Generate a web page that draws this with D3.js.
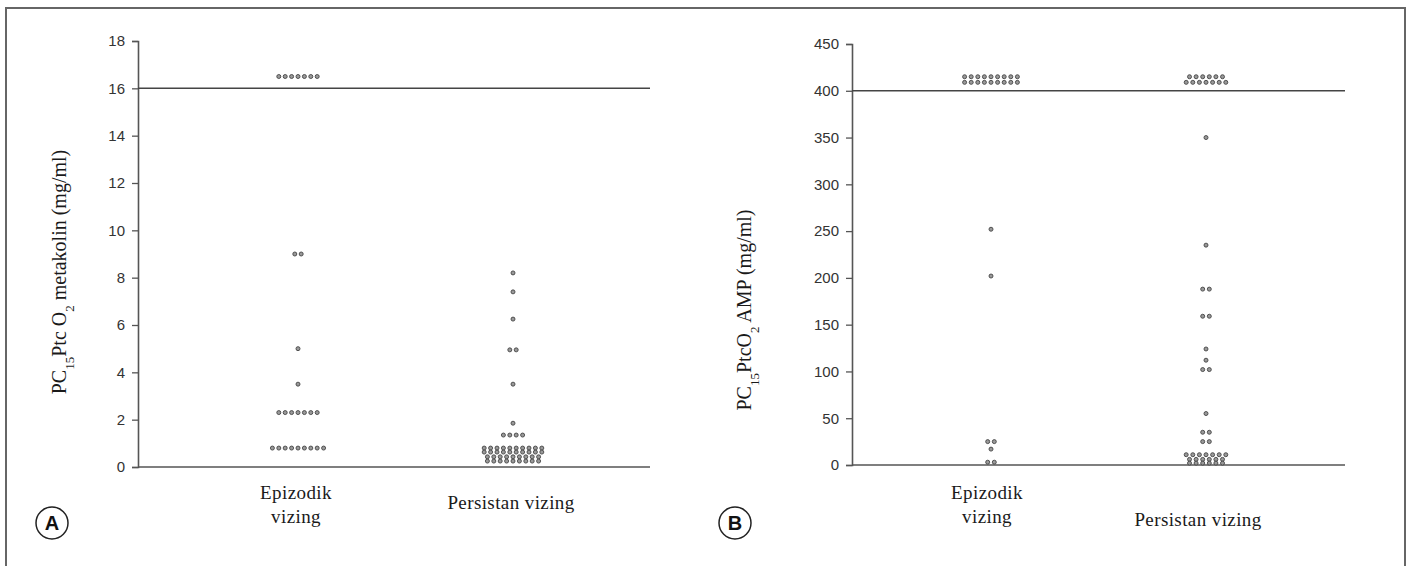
<!DOCTYPE html>
<html>
<head>
<meta charset="utf-8">
<script src="https://cdn.jsdelivr.net/npm/d3@7"></script>
<style>
  body { margin: 0; background: #fff; }
  svg { display: block; }
  .tick-label { font-family: "Liberation Sans", Arial, sans-serif; font-size: 15px; fill: #333; }
  .cat-label { font-family: "Liberation Serif", "Times New Roman", serif; font-size: 19px; fill: #1a1a1a; letter-spacing: 0.4px; }
  .y-title { font-family: "Liberation Serif", "Times New Roman", serif; font-size: 20px; fill: #1a1a1a; }
</style>
</head>
<body>
<svg id="chart" width="1410" height="566"></svg>
<script>
// categories and values
const categories = ["Epizodik vizing", "Persistan vizing"];
const categoryLines = [["Epizodik", "vizing"], ["Persistan vizing"]];

const ticksA = [0, 2, 4, 6, 8, 10, 12, 14, 16, 18];
const ticksB = [0, 50, 100, 150, 200, 250, 300, 350, 400, 450];
const cutoffA = 16;
const cutoffB = 400;

// PC15 metakolin (mg/ml)
const epizodikA = [
    16.5, 16.5, 16.5, 16.5, 16.5, 16.5, 16.5,
    9, 9,
    5,
    3.5,
    2.3, 2.3, 2.3, 2.3, 2.3, 2.3, 2.3,
    0.8, 0.8, 0.8, 0.8, 0.8, 0.8, 0.8, 0.8, 0.8
];
const persistanA = [
    8.2, 7.4, 6.25, 4.95, 4.95, 3.5, 1.85,
    1.35, 1.35, 1.35, 1.35,
    0.8, 0.8, 0.8, 0.8, 0.8, 0.8, 0.8, 0.8, 0.8, 0.8,
    0.63, 0.63, 0.63, 0.63, 0.63, 0.63, 0.63, 0.63, 0.63, 0.63,
    0.43, 0.43, 0.43, 0.43, 0.43, 0.43, 0.43, 0.43, 0.43,
    0.25, 0.25, 0.25, 0.25, 0.25, 0.25, 0.25, 0.25, 0.25
];

// PC15 AMP (mg/ml)
const epizodikB = [
    415, 415, 415, 415, 415, 415, 415, 415, 415,
    409, 409, 409, 409, 409, 409, 409, 409, 409,
    252, 202,
    25, 25, 17, 3, 3
];
const persistanB = [
    415, 415, 415, 415, 415, 415,
    409, 409, 409, 409, 409, 409, 409,
    350, 235, 188, 188, 159, 159, 124, 112, 102, 102,
    55, 35, 35, 25, 25,
    11, 11, 11, 11, 11, 11, 11,
    6, 6, 6, 6, 6, 6,
    2, 2, 2, 2, 2, 2
];

const svg = d3.select("#chart");

// outer frame (open at the bottom)
svg.append("path")
    .attr("d", "M6,566 L6,8 L1405,8 L1405,566")
    .attr("fill", "none")
    .attr("stroke", "#666")
    .attr("stroke-width", 2);

function drawPanel(cfg) {
    const g = svg.append("g");

    const y = d3.scaleLinear()
        .domain([0, d3.max(cfg.ticks)])
        .range([cfg.bottom, cfg.top]);
    const x = d3.scalePoint()
        .domain(categories)
        .range(cfg.centers);

    // y axis
    const yAxis = g.append("g")
        .attr("transform", `translate(${cfg.left},0)`)
        .call(d3.axisLeft(y).tickValues(cfg.ticks).tickSize(6).tickPadding(7));
    yAxis.select(".domain").attr("stroke", "#555").attr("stroke-width", 1.6);
    yAxis.selectAll(".tick line").attr("stroke", "#555").attr("stroke-width", 1.3);
    yAxis.selectAll(".tick text").attr("class", "tick-label").attr("fill", null);

    // x axis line at 0
    g.append("line")
        .attr("x1", cfg.left).attr("x2", cfg.right)
        .attr("y1", y(0)).attr("y2", y(0))
        .attr("stroke", "#555").attr("stroke-width", 1.6);

    // cut-off line
    g.append("line")
        .attr("x1", cfg.left).attr("x2", cfg.right)
        .attr("y1", y(cfg.cutoff)).attr("y2", y(cfg.cutoff))
        .attr("stroke", "#444").attr("stroke-width", 1.5);

    // dots, stacked side by side when values repeat
    cfg.series.forEach((vals, i) => {
        const rows = d3.rollups(vals, v => v.length, d => d);
        const dots = [];
        rows.forEach(([v, n]) => {
            for (let k = 0; k < n; k++) dots.push({ v, k, n });
        });
        g.append("g").selectAll("circle")
            .data(dots)
            .join("circle")
            .attr("cx", d => x(categories[i]) + (d.k - (d.n - 1) / 2) * cfg.spacing)
            .attr("cy", d => y(d.v))
            .attr("r", 2)
            .attr("fill", "#999")
            .attr("stroke", "#444")
            .attr("stroke-width", 0.9);
    });

    // category labels
    categories.forEach((c, i) => {
        const t = g.append("text")
            .attr("class", "cat-label")
            .attr("text-anchor", "middle")
            .attr("x", x(c) + cfg.labelDx[i])
            .attr("y", cfg.labelY[i]);
        categoryLines[i].forEach((line, j) => {
            t.append("tspan")
                .attr("x", x(c) + cfg.labelDx[i])
                .attr("dy", j === 0 ? 0 : 24)
                .text(line);
        });
    });

    // y title with subscripts
    const title = g.append("text")
        .attr("class", "y-title")
        .attr("text-anchor", "middle")
        .attr("transform", `translate(${cfg.titleX},${cfg.titleY}) rotate(-90)`);
    cfg.title.forEach(part => {
        const ts = title.append("tspan").text(part.t);
        if (part.sub) ts.attr("baseline-shift", "sub").attr("font-size", "13px");
    });

    // panel letter
    g.append("circle")
        .attr("cx", cfg.letterX).attr("cy", 523)
        .attr("r", 16)
        .attr("fill", "#fff")
        .attr("stroke", "#222")
        .attr("stroke-width", 1.5);
    g.append("text")
        .attr("x", cfg.letterX).attr("y", 530)
        .attr("text-anchor", "middle")
        .style("font-family", "'Liberation Sans', Arial, sans-serif")
        .style("font-weight", "bold")
        .style("font-size", "20px")
        .attr("fill", "#111")
        .text(cfg.letter);
}

drawPanel({
    ticks: ticksA, cutoff: cutoffA,
    series: [epizodikA, persistanA],
    left: 138, right: 650, top: 41, bottom: 467,
    centers: [298, 513], spacing: 6.4,
    labelY: [499, 509], labelDx: [-2, -2],
    titleX: 66, titleY: 272,
    title: [{ t: "PC" }, { t: "15", sub: true }, { t: "Ptc O" }, { t: "2", sub: true }, { t: " metakolin (mg/ml)" }],
    letter: "A", letterX: 52
});

drawPanel({
    ticks: ticksB, cutoff: cutoffB,
    series: [epizodikB, persistanB],
    left: 852, right: 1345, top: 44, bottom: 465,
    centers: [991, 1206], spacing: 6.6,
    labelY: [499, 526], labelDx: [-4, -8],
    titleX: 751, titleY: 310,
    title: [{ t: "PC" }, { t: "15", sub: true }, { t: "PtcO" }, { t: "2", sub: true }, { t: " AMP (mg/ml)" }],
    letter: "B", letterX: 735
});
</script>
</body>
</html>
